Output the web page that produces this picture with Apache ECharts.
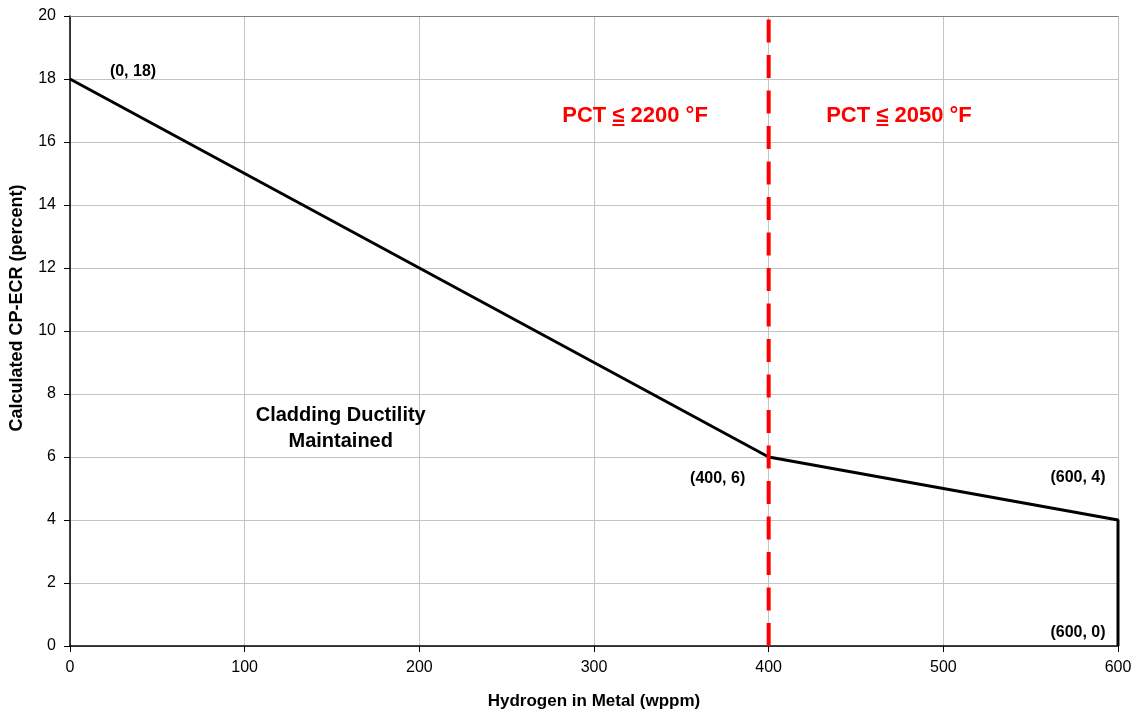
<!DOCTYPE html>
<html lang="en">
<head>
    <meta charset="UTF-8">
    <title>CP-ECR vs Hydrogen</title>
    <script src="https://cdn.jsdelivr.net/npm/echarts@6/dist/echarts.min.js"></script>
    <style>
        html, body { margin: 0; padding: 0; background: #fff; }
        #main { width: 1138px; height: 715px; }
    </style>
</head>
<body>
<div id="main"></div>
<script type="text/javascript">
    // data
    var hydrogen = [0, 400, 600, 600];
    var ecr = [18, 6, 4, 0];
    var limitX = [400, 400];
    var limitY = [0, 20];
    var pointLabels = ['(0, 18)', '(400, 6)', '(600, 4)', '(600, 0)'];

    // annotation text (data coordinates for the text centres)
    var regionTexts = ['PCT ≤ 2200 °F', 'PCT ≤ 2050 °F'];
    var regionAt = [[323.5, 16.84], [474.6, 16.84]];
    var zoneText = 'Cladding Ductility\nMaintained';
    var zoneAt = [155, 6.9];

    var FONT = '"Liberation Sans", Arial, sans-serif';
    var dom = document.getElementById('main');
    var myChart = echarts.init(dom);

    var option = {
        animation: false,
        backgroundColor: '#fff',
        grid: { left: 70, right: 20, top: 16, bottom: 66 },
        xAxis: [{
            type: 'value', min: 0, max: 600, interval: 100,
            name: 'Hydrogen in Metal (wppm)', nameLocation: 'middle', nameGap: 47,
            nameTextStyle: { fontFamily: FONT, fontWeight: 'bold', fontSize: 17, color: '#000' },
            axisLine: { lineStyle: { color: '#000', width: 1.5 } },
            axisTick: { length: 6, lineStyle: { color: '#000' } },
            axisLabel: { fontFamily: FONT, fontSize: 16, color: '#000', margin: 14 },
            splitLine: { lineStyle: { color: '#c4c4c4', width: 1 } }
        }, {
            type: 'value', min: 0, max: 600, position: 'top',
            axisLine: { show: true, lineStyle: { color: '#7f7f7f', width: 1 } },
            axisTick: { show: false }, axisLabel: { show: false }, splitLine: { show: false }
        }],
        yAxis: {
            type: 'value', min: 0, max: 20, interval: 2,
            axisLine: { show: true, lineStyle: { color: '#000', width: 1.5 } },
            axisTick: { show: true, length: 6, lineStyle: { color: '#000' } },
            axisLabel: { fontFamily: FONT, fontSize: 16, color: '#000', margin: 14 },
            splitLine: { lineStyle: { color: '#c4c4c4', width: 1 } }
        },
        series: [{
            type: 'line',
            data: hydrogen.map(function (x, i) { return [x, ecr[i]]; }),
            symbol: 'none',
            lineStyle: { color: '#000', width: 3 },
            z: 3
        }, {
            type: 'line',
            data: limitX.map(function (x, i) { return [x, limitY[i]]; }),
            symbol: 'none',
            lineStyle: { color: '#ff0000', width: 4, type: [23, 12.5] },
            z: 4
        }]
    };
    myChart.setOption(option);

    // annotations placed through the chart's own scales
    var labelOffsets = [[63, -7], [-51, 22], [-40, -42], [-40, -13]];
    var ctx = document.createElement('canvas').getContext('2d');
    var graphics = [];

    function each(arr, fn) { for (var i = 0; i < arr.length; i++) fn(arr[i], i); }

    each(pointLabels, function (txt, i) {
        var p = myChart.convertToPixel({ seriesIndex: 0 }, [hydrogen[i], ecr[i]]);
        graphics.push({
            type: 'text', z: 10,
            style: {
                text: txt, x: p[0] + labelOffsets[i][0], y: p[1] + labelOffsets[i][1],
                align: 'center', verticalAlign: 'middle',
                font: 'bold 16px ' + FONT, fill: '#000'
            }
        });
    });

    ctx.font = 'bold 22px ' + FONT;
    each(regionTexts, function (txt, i) {
        var p = myChart.convertToPixel({ seriesIndex: 0 }, regionAt[i]);
        var total = ctx.measureText(txt).width;
        var pre = ctx.measureText('PCT ').width;
        var le = ctx.measureText('≤').width;
        graphics.push({
            type: 'text', z: 10,
            style: {
                text: txt, x: p[0], y: p[1], align: 'center', verticalAlign: 'middle',
                font: 'bold 22px ' + FONT, fill: '#ff0000'
            }
        });
        graphics.push({
            type: 'rect', z: 10,
            shape: { x: p[0] - total / 2 + pre, y: p[1] + 8.5, width: le, height: 2 },
            style: { fill: '#ff0000' }
        });
    });

    var zp = myChart.convertToPixel({ seriesIndex: 0 }, zoneAt);
    graphics.push({
        type: 'text', z: 10,
        style: {
            text: zoneText, x: zp[0], y: zp[1], align: 'center', verticalAlign: 'middle',
            font: 'bold 20px ' + FONT, fill: '#000', lineHeight: 26
        }
    });

    // y axis title (sits a little above the plot centre, as in the original)
    graphics.push({
        type: 'text', z: 10, x: 17, y: 308, rotation: Math.PI / 2,
        style: {
            text: 'Calculated CP-ECR (percent)', x: 0, y: 0,
            align: 'center', verticalAlign: 'middle',
            font: 'bold 18px ' + FONT, fill: '#000'
        }
    });

    myChart.setOption({ graphic: graphics });
</script>
</body>
</html>
